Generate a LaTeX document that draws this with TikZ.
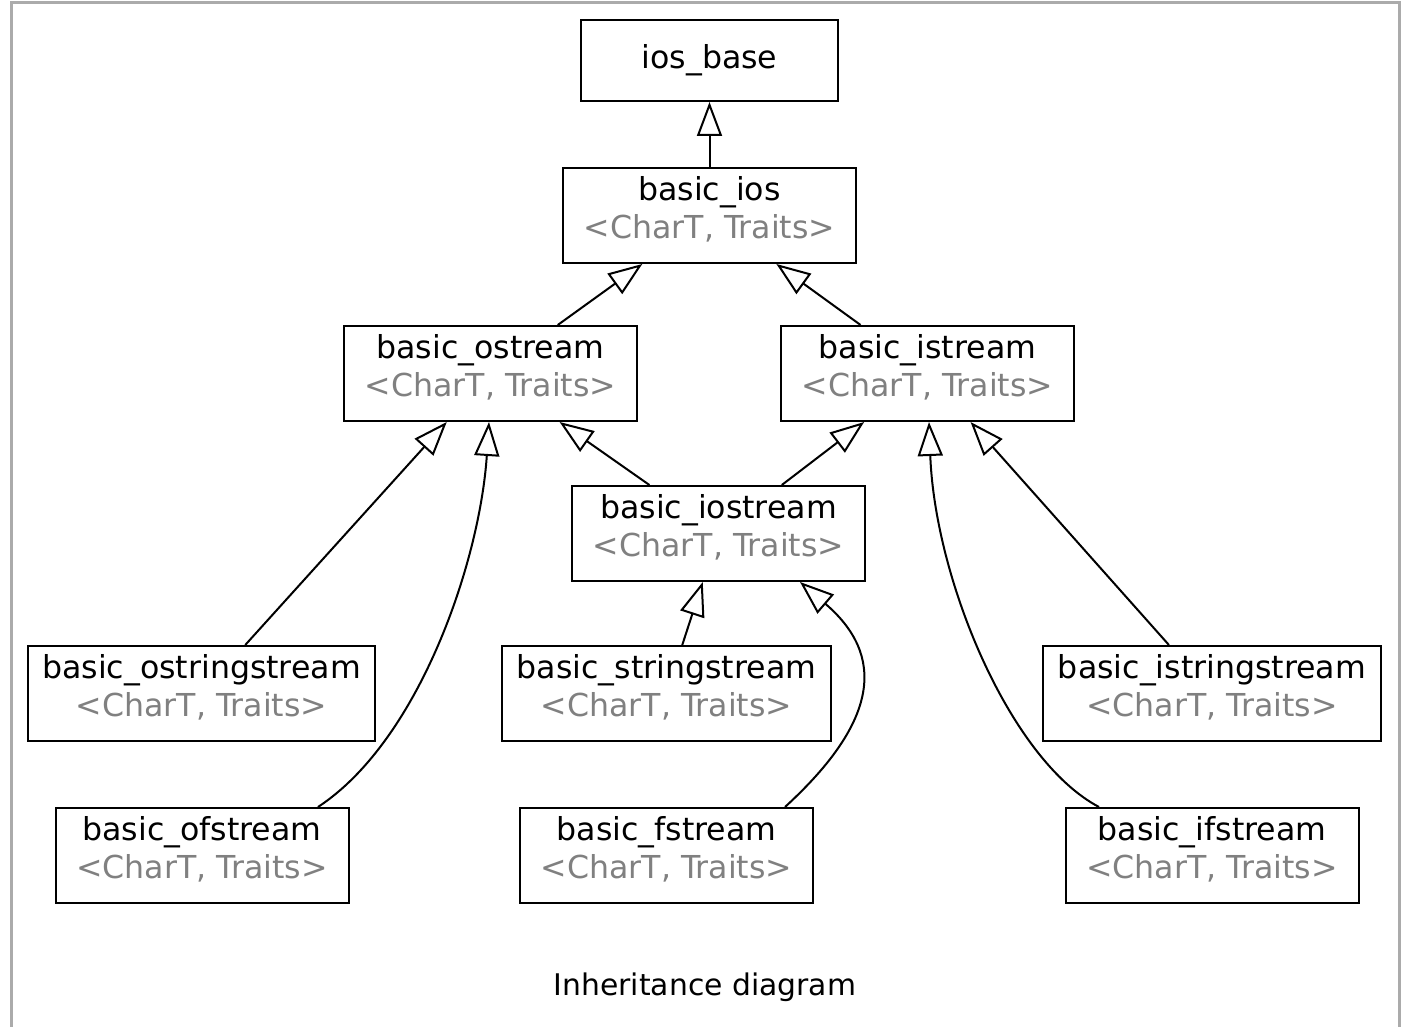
\documentclass[tikz,border=0pt]{standalone}
\usepackage{fontspec}
\setmainfont{DejaVu Sans}
\usepackage{xcolor}
\usepackage{tikz}
\usetikzlibrary{arrows.meta, positioning}

\begin{document}
\begin{tikzpicture}[x=0.5pt, y=-0.5pt,
            classe/.style={draw, line width=1pt, minimum width=146.5pt, minimum height=47.5pt, inner sep=0pt, align=center, text depth=8pt, font=\fontsize{15.8}{19}\selectfont},
            heranca/.style={line width=1pt, -{Triangle[open, length=17pt, width=12.5pt]}},
            moldura/.style={black!33, line width=1.5pt}
        ]
            \useasboundingbox (0,0) rectangle (1421,1027);
            \draw[moldura] (11,1027) -- (11,3) -- (1399,3) -- (1399,1027);

            % Topo da hierarquia
            \node[classe, text depth=, minimum width=128.5pt, minimum height=40.5pt] (base) at (709.5,60.5) {ios\_base};
            \node[classe, below=32.5pt of base] (ios) {basic\_ios\\\textcolor{gray}{<CharT, Traits>}};

            % Fluxos de saída, entrada e ambos
            \node[classe] (ostr) at (490.5,373.5) {basic\_ostream\\\textcolor{gray}{<CharT, Traits>}};
            \node[classe] (istr) at (927.5,373.5) {basic\_istream\\\textcolor{gray}{<CharT, Traits>}};
            \node[classe] (iostr) at (718.5,533.5) {basic\_iostream\\\textcolor{gray}{<CharT, Traits>}};

            % Classes de string
            \node[classe, minimum width=173.5pt] (ostrs) at (201.5,693.5) {basic\_ostringstream\\\textcolor{gray}{<CharT, Traits>}};
            \node[classe, minimum width=164.5pt] (strs) at (666.5,693.5) {basic\_stringstream\\\textcolor{gray}{<CharT, Traits>}};
            \node[classe, minimum width=169pt] (istrs) at (1212,693.5) {basic\_istringstream\\\textcolor{gray}{<CharT, Traits>}};

            % Classes de arquivo
            \node[classe, below=32.5pt of ostrs, xshift=0.25pt] (ofs) {basic\_ofstream\\\textcolor{gray}{<CharT, Traits>}};
            \node[classe, below=32.5pt of strs] (fs) {basic\_fstream\\\textcolor{gray}{<CharT, Traits>}};
            \node[classe, below=32.5pt of istrs] (ifs) {basic\_ifstream\\\textcolor{gray}{<CharT, Traits>}};

            % Legenda
            \node[font=\fontsize{14.9}{18}\selectfont] (legenda) at (705,987) {Inheritance diagram};

            % Arestas de herança
            \draw[heranca] (ios) -- (base);
            \draw[heranca] (ostr) -- (ios);
            \draw[heranca] (istr) -- (ios);
            \draw[heranca] (iostr) -- (ostr);
            \draw[heranca] (iostr) -- (istr);
            \draw[heranca] (ostrs) -- (ostr);
            \draw[heranca] (strs) -- (iostr);
            \draw[heranca] (istrs) -- (istr);
            \draw[heranca] ([xshift=58pt]ofs.north) .. controls (420,740) and (480,560) .. ([xshift=-0.75pt]ostr.south);
            \draw[heranca] ([xshift=59.25pt]fs.north) .. controls (880,720) and (885,655) .. ([xshift=40.75pt]iostr.south);
            \draw[heranca] ([xshift=-56.5pt]ifs.north) .. controls (1010,760) and (935,580) .. ([xshift=0.75pt]istr.south);
        \end{tikzpicture}
\end{document}
